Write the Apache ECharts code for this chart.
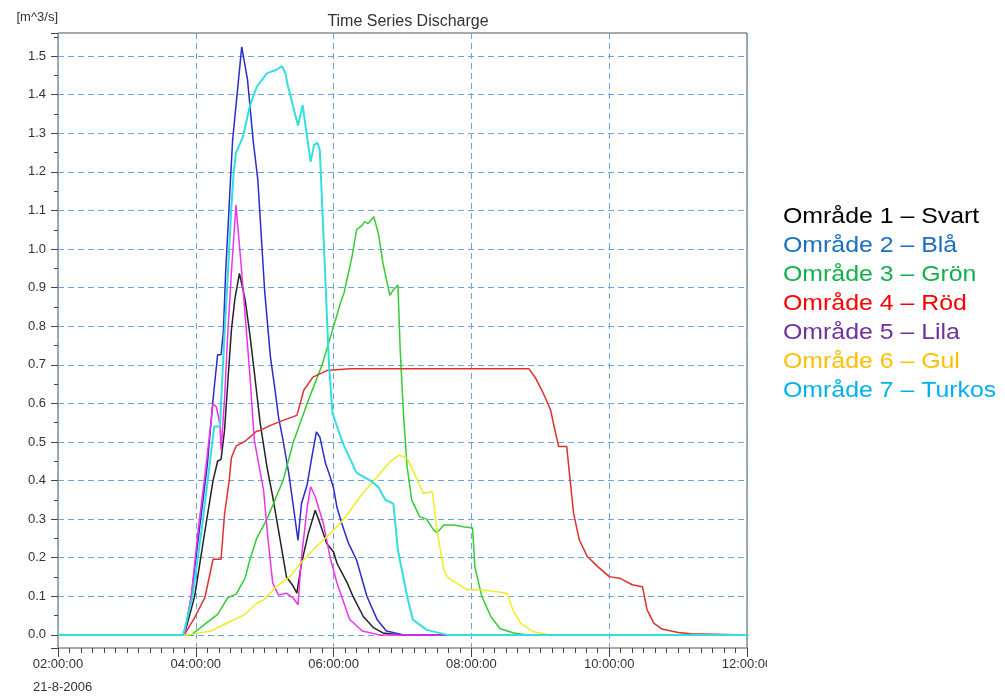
<!DOCTYPE html>
<html>
<head>
<meta charset="utf-8">
<title>Time Series Discharge</title>
<script src="https://cdn.jsdelivr.net/npm/echarts@6/dist/echarts.min.js"></script>
<style>
  html, body { margin: 0; padding: 0; background: #fff; }
  #main { width: 1005px; height: 696px; }
</style>
</head>
<body>
<div id="main"></div>
<script>
// områden (legend text) and colours
var areaNames = ['Område 1 – Svart', 'Område 2 – Blå', 'Område 3 – Grön', 'Område 4 – Röd',
                 'Område 5 – Lila', 'Område 6 – Gul', 'Område 7 – Turkos'];
var lineColors = ['#222222', '#2b2bcc', '#33cc33', '#dd3030', '#ee33ee', '#eeee22', '#33dede'];
var legendColors = ['#000000', '#1a6fc4', '#12b04c', '#ff0000', '#7030a0', '#ffc000', '#00b0f0'];

var xTicks = ['02:00:00', '04:00:00', '06:00:00', '08:00:00', '10:00:00', '12:00:00'];
var dateLabel = '21-8-2006';

// discharge [m^3/s], pairs of [time, value]
var svart = [['02:00',0],['03:50',0],['03:59',0.10],['04:08',0.27],['04:15',0.40],['04:19',0.45],
  ['04:22',0.455],['04:23',0.45],['04:25',0.53],['04:28',0.66],['04:31',0.79],['04:34',0.87],
  ['04:38',0.937],['04:43',0.868],['04:47',0.78],['04:51',0.68],['04:56',0.55],['05:02',0.435],
  ['05:07',0.358],['05:13',0.254],['05:19',0.15],['05:24',0.13],['05:28',0.108],['05:32',0.185],
  ['05:38',0.263],['05:44',0.323],['05:48',0.29],['05:54',0.237],['06:00',0.215],['06:03',0.185],
  ['06:09',0.151],['06:12',0.134],['06:17',0.099],['06:26',0.047],['06:35',0.018],['06:43',0.005],
  ['06:58',0],['12:02',0]];

var bla = [['02:00',0],['03:50',0],['03:56',0.097],['04:03',0.27],['04:10',0.44],['04:15',0.61],
  ['04:19',0.726],['04:22',0.726],['04:24',0.786],['04:26',0.94],['04:29',1.11],['04:32',1.28],
  ['04:40',1.524],['04:45',1.44],['04:50',1.28],['04:54',1.18],['05:00',0.89],['05:05',0.72],
  ['05:09',0.635],['05:12',0.565],['05:16',0.504],['05:21',0.418],['05:25',0.332],['05:29',0.245],
  ['05:32',0.34],['05:37',0.39],['05:41',0.46],['05:45',0.526],['05:48',0.513],['05:53',0.444],
  ['05:57',0.41],['06:00',0.38],['06:03',0.33],['06:07',0.29],['06:13',0.237],['06:20',0.194],
  ['06:29',0.10],['06:38',0.039],['06:46',0.01],['07:01',0],['12:02',0]];

var gron = [['02:00',0],['03:56',0],['04:08',0.028],['04:19',0.053],['04:28',0.097],['04:35',0.105],
  ['04:43',0.148],['04:47',0.194],['04:53',0.25],['05:02',0.30],['05:16',0.40],['05:25',0.50],
  ['05:37',0.60],['05:50',0.70],['06:00',0.80],['06:07',0.87],['06:09',0.885],['06:16',0.98],
  ['06:20',1.05],['06:25',1.062],['06:27',1.071],['06:30',1.066],['06:35',1.084],['06:39',1.04],
  ['06:43',0.963],['06:49',0.88],['06:52',0.894],['06:56',0.907],['06:58',0.738],['07:01',0.565],
  ['07:04',0.436],['07:08',0.35],['07:15',0.306],['07:21',0.30],['07:27',0.272],['07:30',0.265],
  ['07:36',0.285],['07:45',0.285],['07:53',0.28],['08:01',0.277],['08:03',0.177],['08:09',0.10],
  ['08:17',0.047],['08:25',0.016],['08:37',0.005],['08:49',0],['12:02',0]];

var rod = [['02:00',0],['03:50',0],['03:59',0.045],['04:08',0.097],['04:15',0.196],['04:22',0.196],
  ['04:25',0.312],['04:29',0.398],['04:31',0.459],['04:35',0.489],['04:43',0.502],['04:53',0.528],
  ['04:56',0.53],['05:05',0.543],['05:16',0.556],['05:28',0.569],['05:31',0.60],['05:34',0.634],
  ['05:42',0.668],['05:54',0.685],['06:14',0.69],['08:50',0.69],['08:56',0.665],['09:02',0.63],
  ['09:09',0.583],['09:12',0.54],['09:16',0.488],['09:23',0.488],['09:26',0.40],['09:29',0.315],
  ['09:34',0.246],['09:41',0.203],['09:50',0.177],['10:00',0.151],['10:10',0.146],['10:20',0.13],
  ['10:29',0.125],['10:33',0.065],['10:39',0.03],['10:46',0.015],['11:00',0.006],['11:11',0.003],
  ['11:12',0],['12:02',0]];

var lila = [['02:00',0],['03:50',0],['03:56',0.10],['04:02',0.27],['04:09',0.44],['04:15',0.60],
  ['04:18',0.59],['04:21',0.545],['04:22',0.48],['04:25',0.61],['04:28',0.79],['04:31',0.94],
  ['04:35',1.114],['04:40',0.94],['04:44',0.79],['04:47',0.677],['04:51',0.504],['04:59',0.375],
  ['05:03',0.245],['05:07',0.134],['05:12',0.103],['05:19',0.108],['05:25',0.095],['05:29',0.078],
  ['05:32',0.20],['05:37',0.33],['05:40',0.384],['05:44',0.358],['05:51',0.29],['05:57',0.20],
  ['06:03',0.134],['06:14',0.04],['06:25',0.01],['06:40',0],['12:02',0]];

var gul = [['02:00',0],['03:53',0],['04:13',0.01],['04:31',0.036],['04:43',0.053],['04:47',0.065],
  ['04:54',0.084],['04:59',0.09],['05:10',0.125],['05:22',0.151],['05:31',0.185],['05:42',0.22],
  ['05:48',0.238],['05:54',0.254],['06:06',0.29],['06:14',0.32],['06:23',0.358],['06:38',0.41],
  ['06:49',0.449],['06:57',0.466],['07:04',0.458],['07:11',0.414],['07:18',0.367],['07:26',0.371],
  ['07:30',0.272],['07:36',0.168],['07:40',0.147],['07:47',0.134],['07:56',0.117],['08:08',0.117],
  ['08:22',0.112],['08:31',0.108],['08:36',0.065],['08:43',0.03],['08:54',0.008],['09:09',0],
  ['12:02',0]];

var turkos = [['02:00',0],['03:49',0],['03:57',0.097],['04:05',0.27],['04:12',0.44],['04:16',0.54],
  ['04:21',0.54],['04:25',0.78],['04:28',0.94],['04:31',1.11],['04:33',1.20],['04:35',1.25],
  ['04:41',1.29],['04:47',1.37],['04:53',1.42],['05:02',1.456],['05:10',1.464],['05:15',1.474],
  ['05:18',1.456],['05:20',1.425],['05:29',1.32],['05:33',1.373],['05:40',1.226],['05:43',1.27],
  ['05:46',1.275],['05:48',1.256],['05:53',0.91],['05:56',0.70],['05:59',0.575],['06:08',0.497],
  ['06:20',0.42],['06:32',0.40],['06:39',0.383],['06:45',0.35],['06:52',0.34],['06:56',0.22],
  ['07:04',0.10],['07:09',0.04],['07:21',0.013],['07:39',0],['12:02',0]];

var allData = [svart, bla, gron, rod, lila, gul, turkos];

// "HH:MM" -> hours
function toHours(t) {
  var p = t.split(':');
  return +p[0] + (+p[1]) / 60;
}

var myChart = echarts.init(document.getElementById('main'));

var series = allData.map(function (d, i) {
  return {
    name: areaNames[i],
    type: 'line',
    showSymbol: false,
    animation: false,
    clip: true,
    lineStyle: { color: lineColors[i], width: i == 6 ? 2 : 1.5 },
    data: d.map(function (p) { return [toHours(p[0]), p[1]]; })
  };
});

// legend on the right is plain coloured text
var legendText = areaNames.map(function (n, i) {
  return {
    type: 'text',
    left: 783,
    top: 206 + i * 29,
    scaleX: 1.13,
    originX: 0,
    style: {
      text: n,
      fill: legendColors[i],
      font: '22px "Liberation Sans", Arial, sans-serif'
    }
  };
});

var option = {
  backgroundColor: '#fff',
  animation: false,
  title: {
    text: 'Time Series Discharge',
    left: 403,
    textAlign: 'center',
    top: 9,
    textStyle: { fontSize: 16, fontWeight: 'normal', color: '#333', fontFamily: '"Liberation Sans", Arial, sans-serif' }
  },
  grid: {
    left: 58, right: 258, top: 33, bottom: 48,
    show: true,
    borderColor: '#555',
    borderWidth: 1
  },
  xAxis: {
    type: 'value',
    min: 2, max: 12, interval: 2,
    axisLine: { show: false, onZero: false },
    axisTick: { show: true, length: 9, lineStyle: { color: '#444' } },
    minorTick: { show: true, splitNumber: 12, length: 5, lineStyle: { color: '#444' } },
    splitLine: { show: true, lineStyle: { color: '#6fa3dc', type: [6, 4], width: 1 } },
    axisLabel: {
      color: '#333', fontSize: 13, margin: 10,
      fontFamily: '"Liberation Sans", Arial, sans-serif',
      formatter: function (v) { return xTicks[Math.round((v - 2) / 2)]; }
    }
  },
  yAxis: {
    type: 'value',
    min: -0.034, max: 1.56,
    splitNumber: 16, minInterval: 0.1, maxInterval: 0.1,
    name: '[m^3/s]',
    nameLocation: 'end',
    nameGap: 9,
    nameTextStyle: { color: '#333', fontSize: 13, align: 'right', verticalAlign: 'bottom',
                     fontFamily: '"Liberation Sans", Arial, sans-serif' },
    axisLine: { show: false, onZero: false },
    axisTick: { show: true, length: 7, lineStyle: { color: '#444' } },
    minorTick: { show: true, splitNumber: 2, length: 4, lineStyle: { color: '#444' } },
    splitLine: { show: true, showMinLine: false, showMaxLine: false,
                 lineStyle: { color: '#6fa3dc', type: [6, 4], width: 1 } },
    axisLabel: {
      color: '#333', fontSize: 13, margin: 12, showMinLabel: false, showMaxLabel: false,
      fontFamily: '"Liberation Sans", Arial, sans-serif',
      formatter: function (v) {
        var r = Math.round(v * 10);
        if (Math.abs(v * 10 - r) > 1e-6) return '';
        return (r / 10).toFixed(1);
      }
    }
  },
  graphic: legendText.concat([
    {
      type: 'text', left: 33, top: 681,
      style: { text: dateLabel, fill: '#333', font: '13px "Liberation Sans", Arial, sans-serif' }
    },
    // the 12:00 label is cut off in the original figure
    { type: 'rect', left: 767, top: 652, z: 100, shape: { width: 14, height: 24 }, style: { fill: '#fff' } }
  ]),
  series: series
};

myChart.setOption(option);
</script>
</body>
</html>
